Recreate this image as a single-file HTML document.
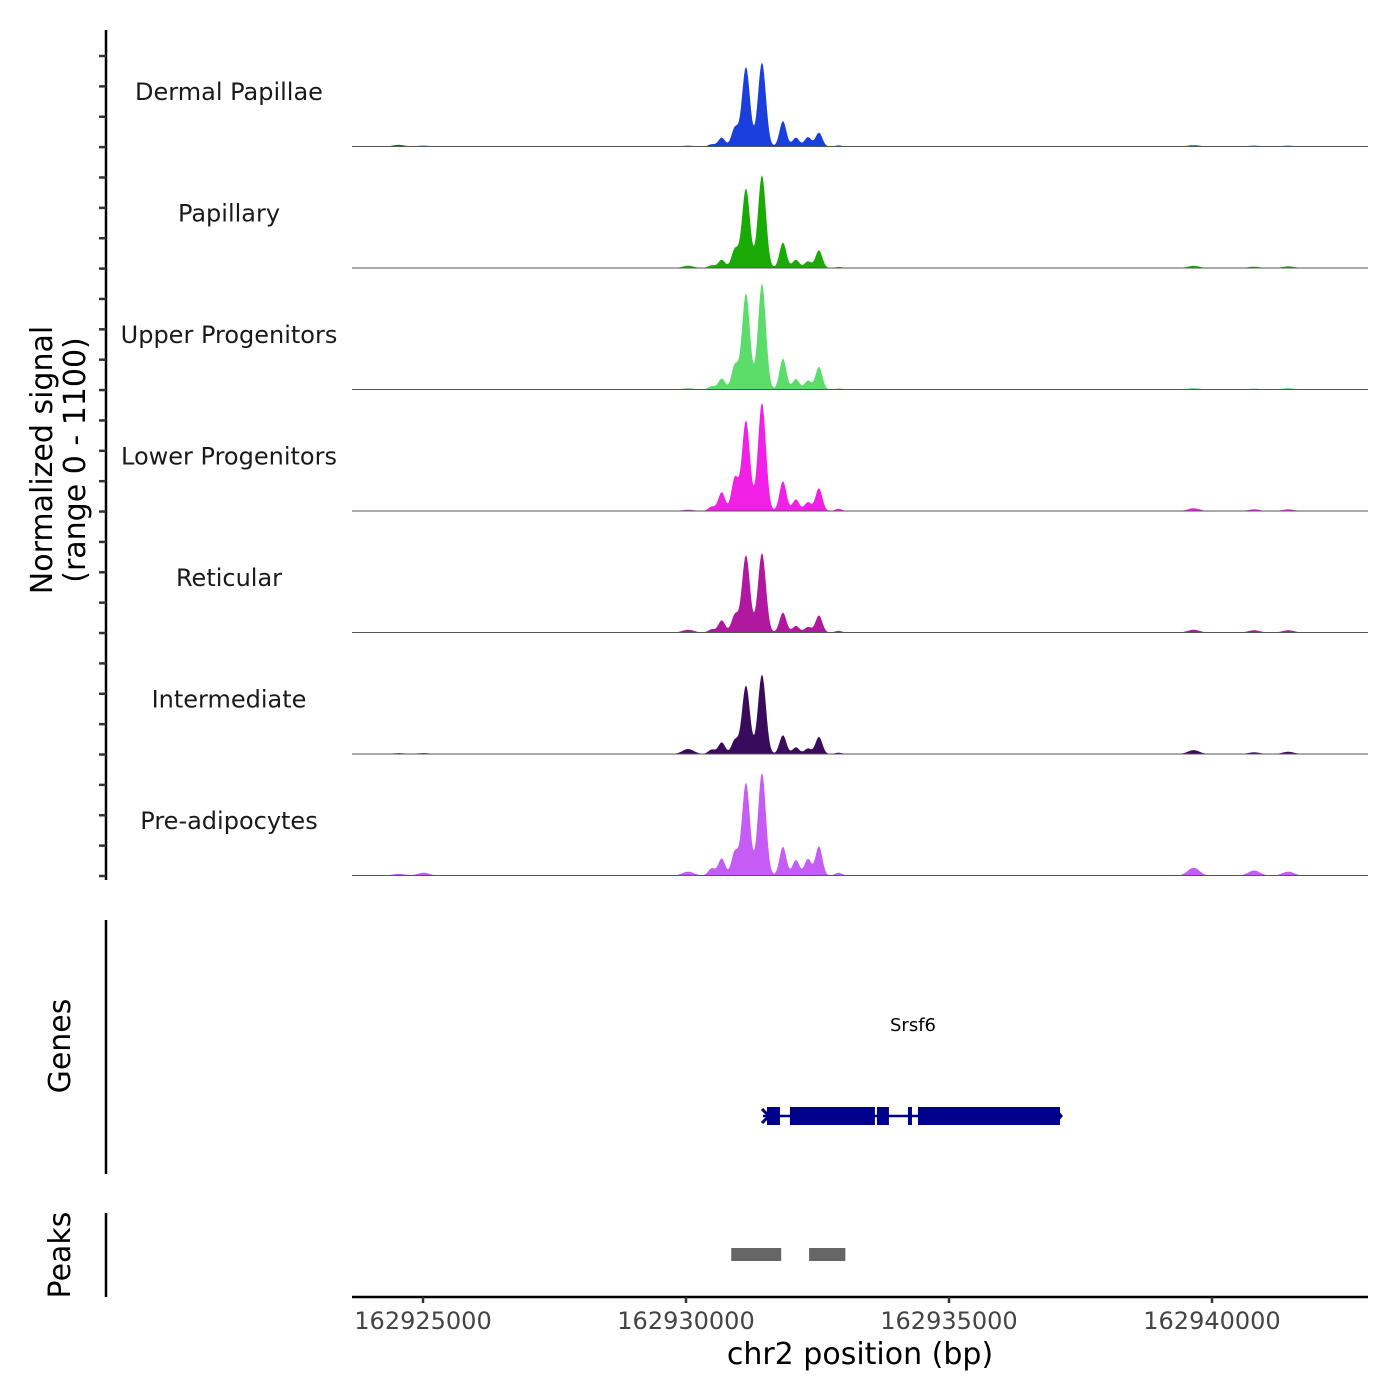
<!DOCTYPE html>
<html><head><meta charset="utf-8"><style>
html,body{margin:0;padding:0;background:#fff;}
svg{display:block;font-family:"DejaVu Sans","Liberation Sans",sans-serif;}
</style></head><body>
<svg id="chart" width="1400" height="1400" viewBox="0 0 1400 1400" xmlns="http://www.w3.org/2000/svg">
<rect width="1400" height="1400" fill="#fff"/>
<g id="tracks"></g>
<g id="yaxis"></g>
<text transform="translate(52,460) rotate(-90)" text-anchor="middle" font-size="30" fill="#000">Normalized signal</text>
<text transform="translate(85,460) rotate(-90)" text-anchor="middle" font-size="30" fill="#000">(range 0 - 1100)</text>
<line x1="106" y1="920" x2="106" y2="1174" stroke="#000" stroke-width="2.5"/>
<text transform="translate(70,1046) rotate(-90)" text-anchor="middle" font-size="30">Genes</text>
<line x1="106" y1="1213" x2="106" y2="1297" stroke="#000" stroke-width="2.5"/>
<text transform="translate(70,1255) rotate(-90)" text-anchor="middle" font-size="30">Peaks</text>
<g id="gene"></g>
<g id="peaks"></g>
<g id="xaxis"></g>
<text x="860" y="1364" text-anchor="middle" font-size="30">chr2 position (bp)</text>
</svg>
<script>
const NS="http://www.w3.org/2000/svg";
const trackNames=["Dermal Papillae","Papillary","Upper Progenitors","Lower Progenitors","Reticular","Intermediate","Pre-adipocytes"];
const trackColors=["#1a3fdc","#1aaa05","#5cdc6a","#f020e6","#b0189f","#3a0b5c","#c45cf5"];
const peakPos=[162924540,162925010,162930040,162930490,162930680,162930930,162931140,162931444,162931843,162932090,162932318,162932527,162932900,162939650,162940800,162941450];
const valsDP=[15,8,8,20,80,170,720,760,230,80,85,125,10,12,8,8];
const valsPap=[0,4,20,25,75,170,720,840,230,75,60,160,10,20,12,15];
const valsUp=[4,4,12,30,100,220,870,960,280,95,80,205,10,12,8,12];
const valsLow=[4,4,12,40,170,300,820,980,270,105,80,205,20,25,15,15];
const valsRet=[4,4,25,30,110,160,700,720,180,60,50,155,15,25,20,20];
const valsInt=[8,8,45,40,105,125,620,720,170,60,50,155,12,35,15,20];
const valsPre=[15,25,35,65,155,215,840,930,260,140,150,265,25,70,45,35];
const trackVals=[valsDP,valsPap,valsUp,valsLow,valsRet,valsInt,valsPre];
const xTicks=[162925000,162930000,162935000,162940000];
const geneExons=[[162931540,162931786],[162931976,162933592],[162933630,162933858],[162934220,162934296],[162934410,162937110]];
const geneSpan=[162931463,162937110];
const peakRegions=[[162930860,162931810],[162932340,162933030]];

const X0=352,X1=1368,BP0=162923650,BP1=162942966;
const x=bp=>X0+(bp-BP0)/(BP1-BP0)*(X1-X0);
const tTop=25,tH=121.5,vMax=1100;
const y=(i,v)=>tTop+(i+1)*tH-v/vMax*tH;
function mk(tag,attrs,parent){const e=document.createElementNS(NS,tag);for(const k in attrs)e.setAttribute(k,attrs[k]);parent.appendChild(e);return e;}

const tracks=document.getElementById('tracks');
trackNames.forEach((name,i)=>{
  const g=mk('g',{},tracks);
  
  
  const vals=trackVals[i];
  let d='M'+X0+','+y(i,0);
  for(let px=X0;px<=1323;px+=1){
    const bp=BP0+(px-X0)/(X1-X0)*(BP1-BP0);
    let s=0;
    for(let k=0;k<peakPos.length;k++){const sd=(k>=3&&k<=12)?(k==6||k==7?75:65):110;const dd=(bp-peakPos[k])/sd;s+=vals[k]*Math.exp(-dd*dd/2);}
    d+=' L'+px+','+y(i,Math.min(s,vMax)).toFixed(1);
  }
  d+=' L1323,'+y(i,0)+' Z';
  const p=mk('path',{d:d,fill:trackColors[i]},g);
  
  
  const bl=mk('line',{x1:X0,x2:X1,y1:y(i,0),y2:y(i,0),stroke:'#555','stroke-width':1},g);
  
  
  const t=mk('text',{x:229,y:tTop+i*tH+75,'text-anchor':'middle','font-size':24,fill:'#1a1a1a'},g);
  
  
  t.textContent=name;
});

const ya=document.getElementById('yaxis');
mk('line',{x1:106,x2:106,y1:30,y2:880,stroke:'#000','stroke-width':2.5},ya);
for(let n=0;n<28;n++){const ty=56+n*30.37;const tk=mk('line',{x1:99,x2:106,y1:ty,y2:ty,stroke:'#333','stroke-width':2.5},ya);

}

const gg=document.getElementById('gene');
mk('line',{x1:x(geneSpan[0]),x2:x(geneSpan[1]),y1:1116,y2:1116,stroke:'#00008b','stroke-width':2.5},gg);
geneExons.forEach(e=>{const r=mk('rect',{x:x(e[0]),y:1107,width:x(e[1])-x(e[0]),height:18,fill:'#00008b'},gg);

});
mk('path',{d:'M762,1109 L769,1116 L762,1123',stroke:'#00008b','stroke-width':3,fill:'none'},gg);
mk('path',{d:'M1056,1110 L1061,1116 L1056,1122',stroke:'#00008b','stroke-width':3,fill:'none'},gg);
const gl=mk('text',{x:913,y:1031,'text-anchor':'middle','font-size':18},gg);


gl.textContent='Srsf6';

const pk=document.getElementById('peaks');
peakRegions.forEach(r0=>{const r=mk('rect',{x:x(r0[0]),y:1248,width:x(r0[1])-x(r0[0]),height:13,fill:'#666'},pk);

});

const xa=document.getElementById('xaxis');
mk('line',{x1:X0,x2:X1,y1:1297,y2:1297,stroke:'#000','stroke-width':2.5},xa);
xTicks.forEach(v=>{mk('line',{x1:x(v),x2:x(v),y1:1297,y2:1303,stroke:'#333','stroke-width':2.5},xa);
const t=mk('text',{x:x(v),y:1329,'text-anchor':'middle','font-size':24,fill:'#444'},xa);


t.textContent=v;});
</script>
</body></html>
